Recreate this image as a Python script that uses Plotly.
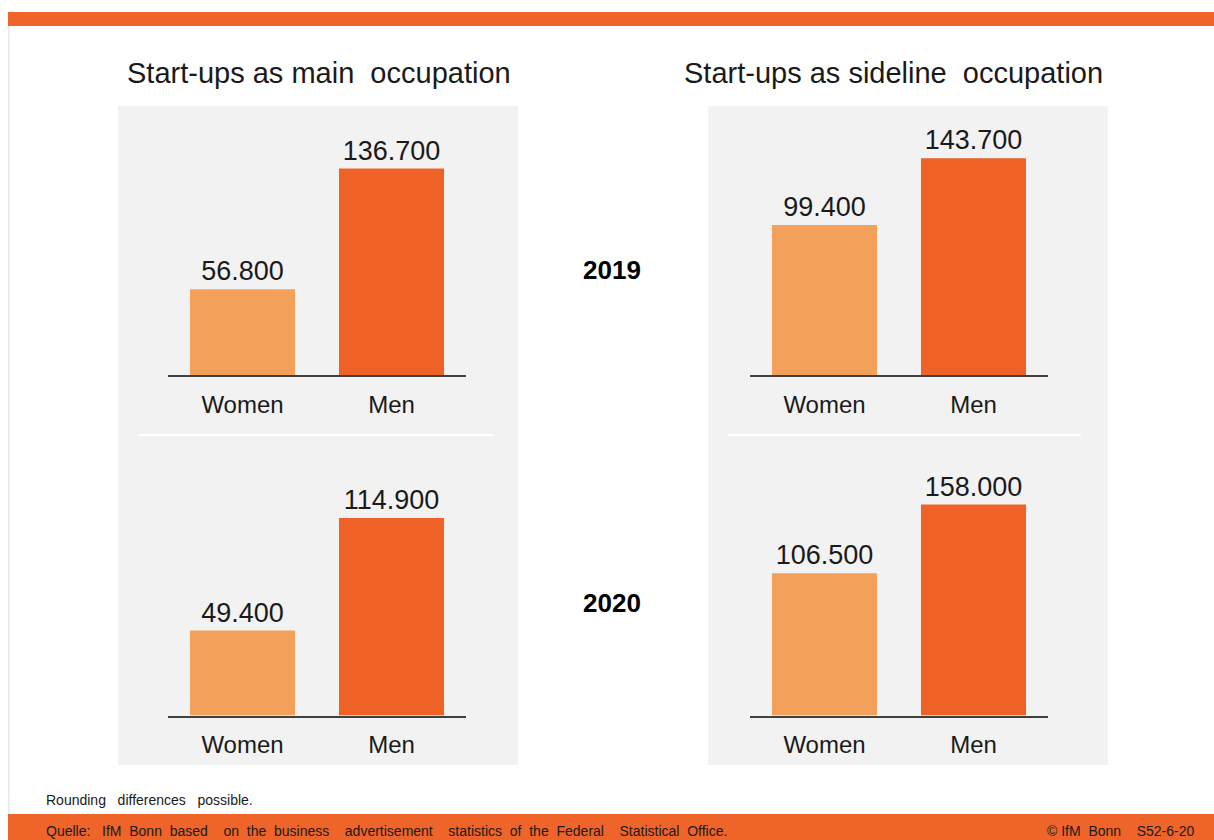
import plotly.graph_objects as go

W, H = 1214, 840

# ---- data ----
categories = ["Women", "Men"]
main_2019 = [56800, 136700]
main_2020 = [49400, 114900]
side_2019 = [99400, 143700]
side_2020 = [106500, 158000]
panel_titles = ["Start-ups as main\u00a0 occupation", "Start-ups as sideline\u00a0 occupation"]
years = ["2019", "2020"]
note_text = "Rounding\u00a0\u00a0 differences\u00a0\u00a0 possible."
source_text = ("Quelle:\u00a0\u00a0 IfM\u00a0 Bonn\u00a0 based\u00a0\u00a0\u00a0 on\u00a0 the\u00a0 business\u00a0\u00a0\u00a0 "
               "advertisement\u00a0\u00a0\u00a0 statistics\u00a0 of\u00a0 the\u00a0 Federal\u00a0\u00a0\u00a0 "
               "Statistical\u00a0 Office.")
copyright_text = "\u00a9 IfM\u00a0 Bonn\u00a0\u00a0\u00a0 S52-6-20"

# ---- style ----
C_WOMEN = "#F3A05A"
C_MEN = "#EE6227"
C_BAR = "#EF6428"
PANEL = "#F2F2F2"
TXT = "#1A1A1A"
FONT = "Liberation Sans, Arial, sans-serif"


def fx(px):
    return px / W


def fy(py):
    return 1 - py / H


# (series, x0px, x1px, ytop px, ybase px, y-range max)
charts = [
    (main_2019, 168, 466, 120, 375, 168900),
    (side_2019, 750, 1048, 120, 375, 169100),
    (main_2020, 168, 466, 450, 715.5, 154450),
    (side_2020, 750, 1048, 450, 715.5, 198900),
]

fig = go.Figure()
layout = dict(
    width=W, height=H, margin=dict(l=0, r=0, t=0, b=0),
    paper_bgcolor="white", plot_bgcolor="rgba(0,0,0,0)",
    showlegend=False, separators=",.",
    font=dict(family=FONT, color=TXT),
)

for i, (vals, x0, x1, yt, yb, ymax) in enumerate(charts):
    n = "" if i == 0 else str(i + 1)
    fig.add_trace(go.Bar(
        x=categories, y=vals, width=0.705,
        marker=dict(color=[C_WOMEN, C_MEN], line=dict(width=0)),
        texttemplate="%{y:,.0f}", textposition="outside",
        textfont=dict(size=27, color=TXT, family=FONT),
        cliponaxis=False, hoverinfo="skip",
        xaxis="x" + n, yaxis="y" + n,
    ))
    layout["xaxis" + n] = dict(
        domain=[fx(x0), fx(x1)], anchor="y" + n,
        range=[-0.5, 1.5], showgrid=False, zeroline=False,
        showline=True, linecolor="#404040", linewidth=2,
        ticks="", ticklabelstandoff=7,
        tickfont=dict(size=24, color=TXT, family=FONT),
        fixedrange=True,
    )
    layout["yaxis" + n] = dict(
        domain=[fy(yb), fy(yt)], anchor="x" + n,
        range=[0, ymax], visible=False, fixedrange=True,
    )

shapes = [
    # top and footer bars
    dict(type="rect", xref="paper", yref="paper", x0=fx(8), x1=1, y0=fy(26), y1=fy(12),
         fillcolor=C_BAR, line=dict(width=0), layer="below"),
    dict(type="rect", xref="paper", yref="paper", x0=fx(8), x1=1, y0=0, y1=fy(814),
         fillcolor=C_BAR, line=dict(width=0), layer="below"),
    dict(type="line", xref="paper", yref="paper", x0=fx(9), x1=fx(9), y0=fy(814), y1=fy(26),
         line=dict(color="#E6E6E6", width=1.5), layer="below"),
    # panels
    dict(type="rect", xref="paper", yref="paper", x0=fx(118), x1=fx(518), y0=fy(765), y1=fy(106),
         fillcolor=PANEL, line=dict(width=0), layer="below"),
    dict(type="rect", xref="paper", yref="paper", x0=fx(708), x1=fx(1108), y0=fy(765), y1=fy(106),
         fillcolor=PANEL, line=dict(width=0), layer="below"),
    # separators
    dict(type="line", xref="paper", yref="paper", x0=fx(139), x1=fx(493), y0=fy(435), y1=fy(435),
         line=dict(color="white", width=2), layer="below"),
    dict(type="line", xref="paper", yref="paper", x0=fx(728), x1=fx(1081), y0=fy(435), y1=fy(435),
         line=dict(color="white", width=2), layer="below"),
]
layout["shapes"] = shapes

annotations = [
    dict(text=panel_titles[0], x=fx(125), y=fy(73), xanchor="left", yanchor="middle",
         font=dict(size=29, color=TXT, family=FONT)),
    dict(text=panel_titles[1], x=fx(682), y=fy(73), xanchor="left", yanchor="middle",
         font=dict(size=29, color=TXT, family=FONT)),
    dict(text="<b>" + years[0] + "</b>", x=fx(612), y=fy(270), xanchor="center", yanchor="middle",
         font=dict(size=26, color="black", family=FONT)),
    dict(text="<b>" + years[1] + "</b>", x=fx(612), y=fy(603), xanchor="center", yanchor="middle",
         font=dict(size=26, color="black", family=FONT)),
    dict(text=note_text, x=fx(44), y=fy(800), xanchor="left", yanchor="middle",
         font=dict(size=14, color=TXT, family=FONT)),
    dict(text=source_text, x=fx(44), y=fy(831), xanchor="left", yanchor="middle",
         font=dict(size=14, color=TXT, family=FONT)),
    dict(text=copyright_text, x=fx(1196), y=fy(831), xanchor="right", yanchor="middle",
         font=dict(size=14, color=TXT, family=FONT)),
]
for a in annotations:
    a.update(xref="paper", yref="paper", showarrow=False)
layout["annotations"] = annotations

fig.update_layout(**layout)
fig.write_html(
    "out.html",
    config={"displayModeBar": False},
    post_script="document.body.style.margin='0';document.body.style.overflow='hidden';",
)
